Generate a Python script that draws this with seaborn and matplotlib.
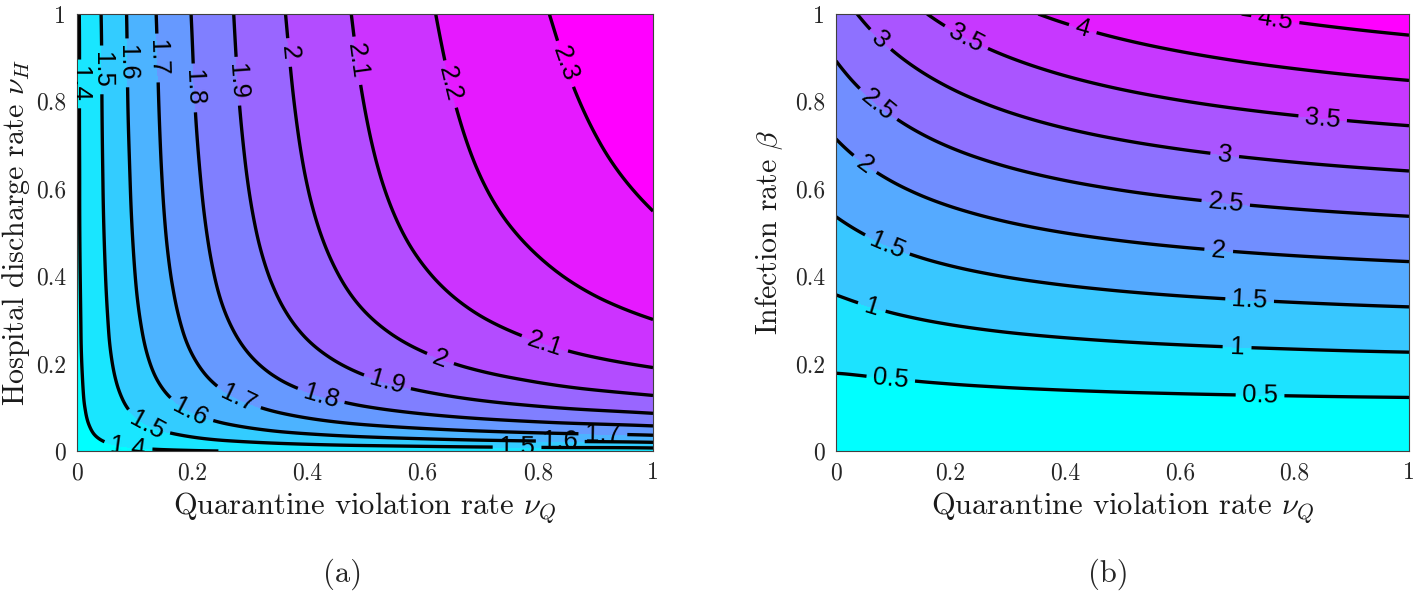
import numpy as np
import matplotlib
matplotlib.use('Agg')
import matplotlib.pyplot as plt
import matplotlib.tri as mtri
import seaborn as sns

# (a) R0 over quarantine violation rate (columns) and hospital discharge rate (rows)
vq_a = [0, 0.01, 0.025, 0.05, 0.08, 0.12, 0.18, 0.26, 0.36, 0.5, 0.65, 0.82, 1.0]
vh_a = [0, 0.004, 0.01, 0.02, 0.035, 0.055, 0.08, 0.12, 0.18, 0.27, 0.4, 0.6, 0.8, 1.0]
r0_a = [
    [1.365, 1.367, 1.370, 1.374, 1.379, 1.385, 1.393, 1.401, 1.409, 1.418, 1.425, 1.431, 1.436],
    [1.366, 1.369, 1.373, 1.380, 1.388, 1.397, 1.408, 1.421, 1.433, 1.446, 1.457, 1.466, 1.474],
    [1.367, 1.372, 1.378, 1.388, 1.399, 1.412, 1.429, 1.448, 1.466, 1.485, 1.501, 1.515, 1.526],
    [1.369, 1.376, 1.385, 1.400, 1.416, 1.435, 1.460, 1.487, 1.513, 1.542, 1.565, 1.585, 1.601],
    [1.372, 1.381, 1.394, 1.415, 1.437, 1.463, 1.497, 1.535, 1.572, 1.611, 1.643, 1.671, 1.694],
    [1.374, 1.386, 1.403, 1.430, 1.458, 1.493, 1.537, 1.585, 1.633, 1.684, 1.725, 1.761, 1.790],
    [1.376, 1.391, 1.412, 1.444, 1.479, 1.520, 1.574, 1.632, 1.690, 1.753, 1.803, 1.846, 1.881],
    [1.379, 1.397, 1.421, 1.460, 1.502, 1.552, 1.616, 1.686, 1.756, 1.831, 1.891, 1.943, 1.985],
    [1.382, 1.402, 1.431, 1.476, 1.525, 1.583, 1.657, 1.739, 1.820, 1.907, 1.977, 2.037, 2.086],
    [1.384, 1.407, 1.439, 1.490, 1.545, 1.610, 1.694, 1.786, 1.877, 1.975, 2.054, 2.122, 2.178],
    [1.386, 1.411, 1.446, 1.501, 1.561, 1.633, 1.724, 1.825, 1.924, 2.031, 2.117, 2.191, 2.252],
    [1.388, 1.414, 1.452, 1.511, 1.575, 1.651, 1.749, 1.856, 1.963, 2.077, 2.169, 2.248, 2.312],
    [1.388, 1.416, 1.455, 1.516, 1.583, 1.661, 1.763, 1.874, 1.984, 2.102, 2.197, 2.279, 2.346],
    [1.389, 1.417, 1.457, 1.520, 1.587, 1.668, 1.772, 1.885, 1.998, 2.118, 2.216, 2.300, 2.368],
]

# (b) R0 over quarantine violation rate (columns) and infection rate (rows)
vq_b = [0, 0.02, 0.05, 0.1, 0.15, 0.2, 0.3, 0.4, 0.5, 0.6, 0.7, 0.8, 0.9, 1.0]
beta_b = [0, 0.25, 0.5, 0.75, 1.0]
r0_b = [
    [0.000, -0.017, -0.033, -0.050, -0.060, -0.067, -0.075, -0.080, -0.083, -0.086, -0.087, -0.089, -0.090, -0.091],
    [0.700, 0.715, 0.741, 0.783, 0.822, 0.857, 0.916, 0.962, 1.000, 1.031, 1.057, 1.079, 1.099, 1.115],
    [1.400, 1.447, 1.515, 1.617, 1.705, 1.781, 1.906, 2.004, 2.083, 2.148, 2.202, 2.248, 2.287, 2.321],
    [2.100, 2.179, 2.289, 2.450, 2.587, 2.705, 2.897, 3.047, 3.167, 3.265, 3.347, 3.416, 3.476, 3.527],
    [2.800, 2.912, 3.064, 3.283, 3.469, 3.629, 3.887, 4.089, 4.250, 4.382, 4.492, 4.585, 4.664, 4.733],
]

levels_a = [1.4, 1.5, 1.6, 1.7, 1.8, 1.9, 2.0, 2.1, 2.2, 2.3]
levels_b = [0.5, 1.0, 1.5, 2.0, 2.5, 3.0, 3.5, 4.0, 4.5]
tick_vals = [0, 0.2, 0.4, 0.6, 0.8, 1]
tick_labels = ['0', '0.2', '0.4', '0.6', '0.8', '1']

# where the inline contour labels sit
labels_a = {
    1.4: [(0.004, 0.84), (0.09, 0.022)],
    1.5: [(0.031, 0.872), (0.12, 0.055), (0.764, 0.007)],
    1.6: [(0.075, 0.888), (0.196, 0.087), (0.839, 0.018)],
    1.7: [(0.13, 0.899), (0.277, 0.112), (0.913, 0.04)],
    1.8: [(0.19, 0.83), (0.42, 0.11)],
    1.9: [(0.266, 0.845), (0.535, 0.14)],
    2.0: [(0.352, 0.91), (0.63, 0.208)],
    2.1: [(0.47, 0.89), (0.8125, 0.247)],
    2.2: [(0.627, 0.833)],
    2.3: [(0.826, 0.876)],
}
labels_b = {
    0.5: [(0.095, 0.158), (0.74, 0.124)],
    1.0: [(0.061, 0.323), (0.70, 0.239)],
    1.5: [(0.087, 0.464), (0.722, 0.348)],
    2.0: [(0.047, 0.65), (0.668, 0.46)],
    2.5: [(0.064, 0.778), (0.68, 0.565)],
    3.0: [(0.075, 0.938), (0.678, 0.673)],
    3.5: [(0.226, 0.943), (0.849, 0.757)],
    4.0: [(0.429, 0.959)],
    4.5: [(0.766, 0.982)],
}

sns.set_theme(style='ticks')
plt.rcParams['font.family'] = ['serif']
plt.rcParams['font.serif'] = ['cmr10']
plt.rcParams['mathtext.fontset'] = 'cm'
plt.rcParams['axes.formatter.use_mathtext'] = True
plt.rcParams['axes.unicode_minus'] = False

cmap = sns.color_palette('cool', as_cmap=True)


def smooth_grid(x, y, z):
    # triangulate the rectangular grid and let matplotlib render it smoothly
    xx, yy = np.meshgrid(x, y)
    nx, ny = len(x), len(y)
    tris = []
    for j in range(ny - 1):
        for i in range(nx - 1):
            k = j * nx + i
            tris.append([k, k + 1, k + nx + 1])
            tris.append([k, k + nx + 1, k + nx])
    tri = mtri.Triangulation(xx.ravel(), yy.ravel(), tris)
    zz = np.asarray(z, dtype=float).ravel()
    interp = mtri.CubicTriInterpolator(tri, zz, kind='min_E')
    return mtri.UniformTriRefiner(tri).refine_field(zz, triinterpolator=interp, subdiv=4)


def draw_panel(ax, x, y, z, levels, label_pos, xlabel, ylabel, ylabelpad):
    tri_r, z_r = smooth_grid(x, y, z)
    bounds = [z_r.min() - 1e-6] + levels + [z_r.max() + 1e-6]
    colors = cmap(np.linspace(0, 1, len(bounds) - 1))
    ax.tricontourf(tri_r, z_r, levels=bounds, colors=colors)
    for lv in levels:
        cs = ax.tricontour(tri_r, z_r, levels=[lv], colors='black', linewidths=2.4)
        pos = label_pos.get(lv, [])
        if pos:
            texts = ax.clabel(cs, manual=pos, inline=True, fmt='%g', fontsize=18.5, inline_spacing=8)
            for t in texts:
                t.set_fontfamily('Liberation Sans')
                # vertical labels read top to bottom, like the others
                if 60 < t.get_rotation() < 120:
                    t.set_rotation(t.get_rotation() + 180)
    ax.set_xlim(0, 1)
    ax.set_ylim(0, 1)
    ax.set_xticks(tick_vals)
    ax.set_xticklabels(tick_labels)
    ax.set_yticks(tick_vals)
    ax.set_yticklabels(tick_labels)
    ax.tick_params(direction='in', length=5, width=0.7, top=True, right=True,
                   labelsize=17, colors='#262626', pad=8)
    for sp in ax.spines.values():
        sp.set_color('#404040')
        sp.set_linewidth(0.8)
    ax.set_xlabel(xlabel, fontsize=22, labelpad=4, color='#1a1a1a')
    ax.set_ylabel(ylabel, fontsize=21.5, labelpad=ylabelpad, color='#1a1a1a')


fig = plt.figure(figsize=(14.15, 5.91), dpi=100)
ax_a = fig.add_axes([77 / 1415, 140 / 591, 576 / 1415, 437 / 591])
ax_b = fig.add_axes([836 / 1415, 140 / 591, 573 / 1415, 437 / 591])

draw_panel(ax_a, vq_a, vh_a, r0_a, levels_a, labels_a,
           r'Quarantine violation rate $\nu_Q$', r'Hospital discharge rate $\nu_H$', 3)
draw_panel(ax_b, vq_b, beta_b, r0_b, levels_b, labels_b,
           r'Quarantine violation rate $\nu_Q$', r'Infection rate $\beta$', 7)

fig.text(343 / 1415, 1 - 574 / 591, '(a)', fontsize=22, ha='center', va='center')
fig.text(1108 / 1415, 1 - 574 / 591, '(b)', fontsize=22, ha='center', va='center')

fig.savefig('out.png', dpi=100)
plt.close(fig)
